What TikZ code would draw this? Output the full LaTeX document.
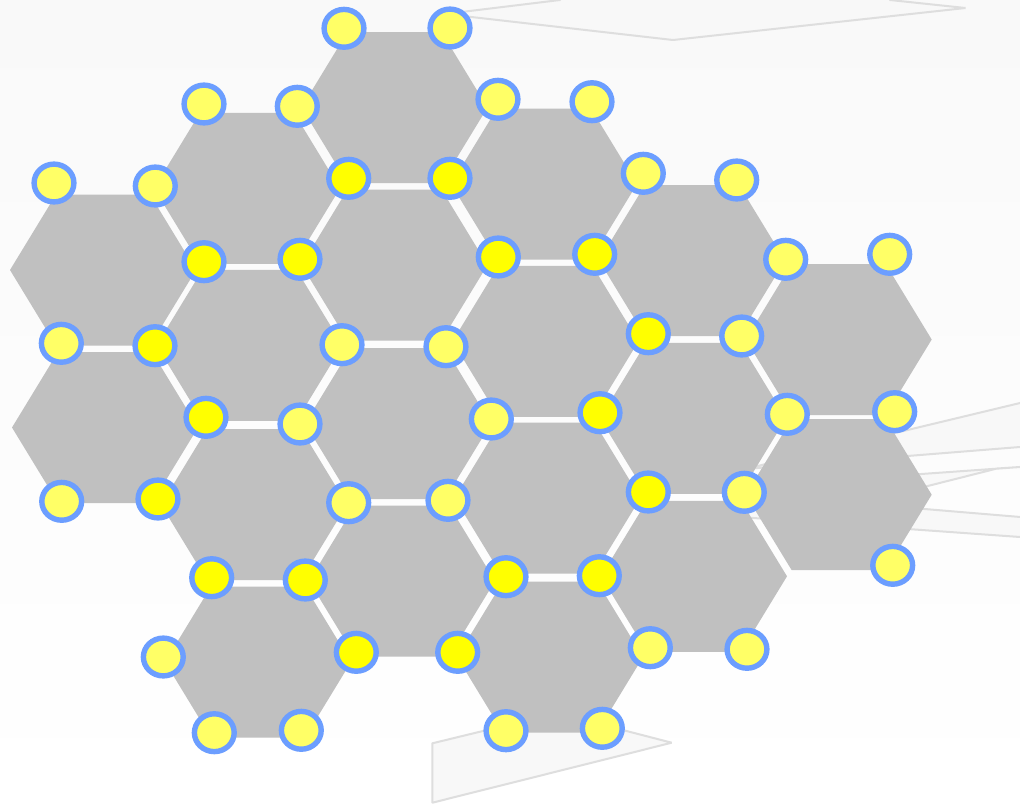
\documentclass[tikz,border=0pt]{standalone}
\usetikzlibrary{shapes.geometric}
\definecolor{hexgrey}{HTML}{C0C0C0}
\definecolor{ringblue}{HTML}{6C9EFF}
\definecolor{dotbright}{HTML}{FFFF00}
\definecolor{dotpale}{HTML}{FFFF66}
\definecolor{ghostfill}{HTML}{F8F8F8}
\definecolor{ghostline}{HTML}{DEDEDE}
\definecolor{bgtop}{HTML}{F9F9F9}
\newcommand{\hexcell}[2]{\fill[hexgrey] (#1-93,#2) -- (#1-47,#2-75.5) -- (#1+47,#2-75.5) -- (#1+93,#2) -- (#1+47,#2+75.5) -- (#1-47,#2+75.5) -- cycle;}
\tikzset{
  dot/.style={ellipse,draw=ringblue,line width=5.4pt,minimum width=39.8pt,minimum height=37.8pt,inner sep=0pt,outer sep=0pt},
  bright/.style={dot,fill=dotbright},
  pale/.style={dot,fill=dotpale},
  ghost/.style={fill=ghostfill,draw=ghostline,line width=2pt,line join=bevel}
}
\begin{document}
\begin{tikzpicture}[x=1pt,y=-1pt]
\clip (0,0) rectangle (1020,804);
\shade[top color=bgtop,bottom color=white] (0,0) rectangle (1020,804);
% faint background shapes
\path[ghost] (445,14) -- (560,0) -- (560,-5) -- (890,-5) -- (890,0) -- (965.5,8) -- (673,40) -- cycle;
\path[ghost] (745,469) -- (1030,400.6) -- (1030,446.2) -- cycle;
\path[ghost] (1030,466.3) -- (900,475.5) -- (900,493) -- (997,468.5) -- cycle;
\path[ghost] (745,494) -- (1030,517.8) -- (1030,537.7) -- (745,517.4) -- cycle;
\path[ghost] (432.3,743.3) -- (557,713) -- (671.7,742.7) -- (432.3,802.7) -- cycle;
% hexagonal cells
\hexcell{394.5}{107.5}
\hexcell{247}{188.3}
\hexcell{103}{270}
\hexcell{544}{184}
\hexcell{692}{260.5}
\hexcell{838.7}{339.5}
\hexcell{394.5}{265}
\hexcell{249.5}{345.3}
\hexcell{105}{427.5}
\hexcell{545.5}{341.3}
\hexcell{398}{423.5}
\hexcell{254}{504.7}
\hexcell{693}{418.3}
\hexcell{547.5}{498}
\hexcell{838.7}{494.7}
\hexcell{694}{576.3}
\hexcell{402}{581}
\hexcell{258}{662}
\hexcell{550}{657}
% vertices
\node[pale] (n1) at (344,28.3) {};
\node[pale] (n2) at (450,28) {};
\node[pale] (n3) at (204,104) {};
\node[pale] (n4) at (297.3,106.3) {};
\node[pale] (n5) at (498,99.3) {};
\node[pale] (n6) at (592,101.7) {};
\node[pale] (n7) at (54,183) {};
\node[pale] (n8) at (155.3,186) {};
\node[bright] (n9) at (348.7,178.3) {};
\node[bright] (n10) at (450,178.3) {};
\node[pale] (n11) at (643.3,173.3) {};
\node[pale] (n12) at (736.7,180) {};
\node[bright] (n13) at (204,261.7) {};
\node[bright] (n14) at (300,259.3) {};
\node[bright] (n15) at (498.3,257) {};
\node[bright] (n16) at (594.7,254.3) {};
\node[pale] (n17) at (785.7,259.3) {};
\node[pale] (n18) at (889.7,254.3) {};
\node[pale] (n19) at (61.3,343.3) {};
\node[bright] (n20) at (155,345.7) {};
\node[pale] (n21) at (342,344.7) {};
\node[pale] (n22) at (446,346.7) {};
\node[bright] (n23) at (648.3,333.7) {};
\node[pale] (n24) at (741.7,336) {};
\node[bright] (n25) at (206,417.3) {};
\node[pale] (n26) at (300,424) {};
\node[pale] (n27) at (491.3,419) {};
\node[bright] (n28) at (600,412.7) {};
\node[pale] (n29) at (787.3,414.3) {};
\node[pale] (n30) at (894.7,411.7) {};
\node[pale] (n31) at (61.7,501.3) {};
\node[bright] (n32) at (158,499) {};
\node[pale] (n33) at (348.7,502.7) {};
\node[pale] (n34) at (448,500.3) {};
\node[bright] (n35) at (648.3,492) {};
\node[pale] (n36) at (744.3,492.3) {};
\node[bright] (n37) at (211.7,577.7) {};
\node[bright] (n38) at (305.3,580) {};
\node[bright] (n39) at (506,576.7) {};
\node[bright] (n40) at (599.3,575.7) {};
\node[pale] (n41) at (892.7,565.3) {};
\node[pale] (n42) at (163.3,657) {};
\node[bright] (n43) at (356.3,652.3) {};
\node[bright] (n44) at (457.7,652.3) {};
\node[pale] (n45) at (650.3,647.7) {};
\node[pale] (n46) at (747,649.3) {};
\node[pale] (n47) at (214.3,732.7) {};
\node[pale] (n48) at (301.3,730.3) {};
\node[pale] (n49) at (506,730.7) {};
\node[pale] (n50) at (602.3,728.3) {};
\end{tikzpicture}
\end{document}
